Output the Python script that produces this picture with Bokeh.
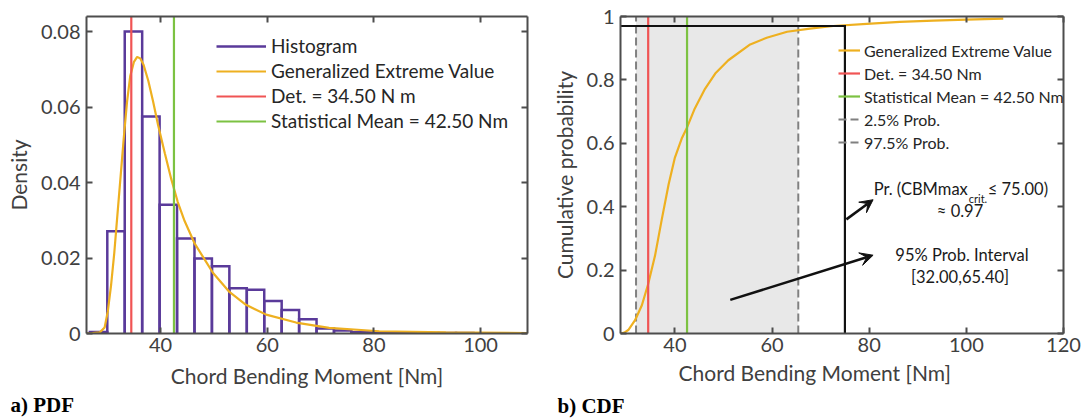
from bokeh.embed import file_html
from bokeh.layouts import row
from bokeh.models import (Arrow, FixedTicker, Label, Legend, LegendItem,
                          LinearAxis, Range1d, Title, VeeHead)
from bokeh.plotting import figure
from bokeh.resources import INLINE

# ---------------- data ----------------
# histogram of the chord bending moment (density per bin)
bin_edges = [26.73, 30.00, 33.27, 36.54, 39.81, 43.08, 46.35, 49.62, 52.89,
             56.16, 59.43, 62.70, 65.97, 69.24, 72.51, 75.78, 79.05, 82.32,
             85.59, 88.86, 92.13, 95.40, 98.67]
hist_density = [0.0004, 0.0271, 0.0800, 0.0575, 0.0341, 0.0252, 0.0199,
                0.0178, 0.0120, 0.0116, 0.0086, 0.0062, 0.0038, 0.0013,
                0.0008, 0.0003, 0.0003, 0.0001, 0.0002, 0.0001, 0.0001, 0.0001]

# fitted generalized extreme value density
gev_x = [26.1, 28.6, 29.5, 30.1, 30.7, 31.3, 31.9, 32.5, 33.1, 33.7, 34.3,
         35.0, 35.6, 36.2, 36.8, 37.7, 38.6, 39.5, 40.8, 42.0, 43.2, 44.5,
         46.4, 48.3, 49.8, 52.9, 56.0, 59.8, 65.4, 71.6, 81.0, 93.5, 108.8]
gev_pdf = [0.0, 0.0003, 0.0016, 0.0059, 0.0127, 0.0212, 0.0315, 0.0417,
           0.0520, 0.0614, 0.0682, 0.0720, 0.0733, 0.0729, 0.0712, 0.0669,
           0.0614, 0.0554, 0.0477, 0.0409, 0.0349, 0.0298, 0.0238, 0.0195,
           0.0161, 0.0110, 0.0076, 0.0050, 0.0029, 0.0015, 0.0006, 0.0003,
           0.0001]

# fitted generalized extreme value cumulative distribution
cdf_x = [28.8, 29.6, 30.4, 31.8, 33.2, 34.5, 35.9, 37.3, 38.7, 40.0, 41.4,
         42.5, 44.1, 46.2, 48.3, 51.0, 55.5, 58.9, 63.1, 67.8, 72.6, 79.5,
         86.3, 93.2, 100.0, 107.6]
cdf_p = [0.0, 0.003, 0.011, 0.042, 0.089, 0.156, 0.245, 0.360, 0.470, 0.555,
         0.615, 0.650, 0.710, 0.772, 0.820, 0.862, 0.912, 0.933, 0.952,
         0.962, 0.970, 0.977, 0.983, 0.987, 0.990, 0.993]

det_value = 34.50        # deterministic moment [Nm]
mean_value = 42.50       # statistical mean [Nm]
prob_lo = 32.00          # 2.5 % quantile
prob_hi = 65.40          # 97.5 % quantile
crit_value = 75.00       # critical moment
crit_prob = 0.97         # probability of not exceeding it

pdf_x_range = (26.1, 108.8)
pdf_y_range = (0.0, 0.084)
cdf_x_range = (28.8, 120.0)
cdf_y_range = (0.0, 1.0)

pdf_xticks = [40, 60, 80, 100]
pdf_yticks = [0, 0.02, 0.04, 0.06, 0.08]
pdf_ytick_labels = ["0", "0.02", "0.04", "0.06", "0.08"]
cdf_xticks = [40, 60, 80, 100, 120]
cdf_yticks = [0, 0.2, 0.4, 0.6, 0.8, 1]
cdf_ytick_labels = ["0", "0.2", "0.4", "0.6", "0.8", "1"]

x_title = "Chord Bending Moment [Nm]"

# ---------------- style ----------------
FONT = "Lato"
AXIS_COLOR = "#4d4d4d"
TEXT_COLOR = "#404040"
PURPLE = "#5a3a9a"
ORANGE = "#eeb020"
RED = "#f05454"
GREEN = "#7cc242"
GREY = "#808080"
SHADE = "#e8e8e8"
TICK_SIZE = "20px"
LABEL_SIZE = "21px"


def style_axis(ax, ticks, labels=None, show_labels=True, axis_label=None):
    ax.ticker = FixedTicker(ticks=ticks)
    ax.axis_line_color = AXIS_COLOR
    ax.axis_line_width = 2
    ax.major_tick_line_color = AXIS_COLOR
    ax.major_tick_line_width = 2
    ax.major_tick_in = 6
    ax.major_tick_out = 0
    ax.minor_tick_line_color = None
    if show_labels:
        ax.major_label_text_font = FONT
        ax.major_label_text_font_size = TICK_SIZE
        ax.major_label_text_color = TEXT_COLOR
        ax.major_label_standoff = 6
        if labels is not None:
            ax.major_label_overrides = dict(zip(ticks, labels))
    else:
        # mirrored box side: tick marks only
        ax.major_label_text_font_size = "1px"
        ax.major_label_text_color = None
        ax.major_label_standoff = 0
    if axis_label:
        ax.axis_label = axis_label
        ax.axis_label_text_font = FONT
        ax.axis_label_text_font_size = LABEL_SIZE
        ax.axis_label_text_font_style = "normal"
        ax.axis_label_text_color = TEXT_COLOR


def make_figure(width, xr, yr, left, right, top, bottom):
    p = figure(width=width, height=418, x_range=Range1d(*xr),
               y_range=Range1d(*yr), output_backend="svg",
               toolbar_location=None, min_border_left=left,
               min_border_right=right, min_border_top=top,
               min_border_bottom=bottom)
    p.grid.visible = False
    p.outline_line_color = None
    p.background_fill_color = "white"
    p.border_fill_color = "white"
    return p


def panel_tag(p, text, offset, standoff=0):
    p.add_layout(Title(text=text, align="left", offset=offset,
                       standoff=standoff, text_font="Liberation Serif",
                       text_font_style="bold", text_font_size="21px",
                       text_line_height=1.0, text_color="black"), "below")


# ---------------- a) PDF ----------------
p1 = make_figure(545, pdf_x_range, pdf_y_range, 86, 18, 5, 85)

bar_xs = [[bin_edges[i], bin_edges[i], bin_edges[i + 1], bin_edges[i + 1]]
          for i in range(len(hist_density))]
bar_ys = [[0, h, h, 0] for h in hist_density]
r_hist = p1.multi_line(bar_xs, bar_ys, line_color=PURPLE, line_width=2.5,
                       line_join="miter")
r_gev = p1.line(gev_x, gev_pdf, line_color=ORANGE, line_width=2.2)
r_det = p1.segment(x0=[det_value], y0=[pdf_y_range[0]], x1=[det_value],
                   y1=[pdf_y_range[1]], line_color=RED, line_width=2.2)
r_mean = p1.segment(x0=[mean_value], y0=[pdf_y_range[0]], x1=[mean_value],
                    y1=[pdf_y_range[1]], line_color=GREEN, line_width=2.2)

style_axis(p1.xaxis[0], pdf_xticks, axis_label=x_title)
style_axis(p1.yaxis[0], pdf_yticks, pdf_ytick_labels, axis_label="Density")
p1.xaxis[0].major_label_standoff = 4
p1.xaxis[0].axis_label_standoff = 8
p1.yaxis[0].axis_label_standoff = 7
top1 = LinearAxis()
style_axis(top1, pdf_xticks, show_labels=False)
p1.add_layout(top1, "above")
right1 = LinearAxis()
style_axis(right1, pdf_yticks, show_labels=False)
p1.add_layout(right1, "right")

leg1 = Legend(items=[
    LegendItem(label="Histogram", renderers=[r_hist]),
    LegendItem(label="Generalized Extreme Value", renderers=[r_gev]),
    LegendItem(label=f"Det. = {det_value:.2f} N m", renderers=[r_det]),
    LegendItem(label=f"Statistical Mean = {mean_value:.2f} Nm",
               renderers=[r_mean]),
], location=(130, 201))
leg1.border_line_color = None
leg1.background_fill_alpha = 0
leg1.padding = 0
leg1.margin = 0
leg1.spacing = 2
leg1.glyph_width = 50
leg1.glyph_height = 20
leg1.label_height = 20
leg1.label_standoff = 5
leg1.label_text_font = FONT
leg1.label_text_font_size = "19px"
leg1.label_text_color = "#262626"
p1.add_layout(leg1)

panel_tag(p1, "a) PDF", -76)

# ---------------- b) CDF ----------------
p2 = make_figure(538, cdf_x_range, cdf_y_range, 75, 20, 16, 82)

p2.quad(left=[prob_lo], right=[prob_hi], bottom=[cdf_y_range[0]],
        top=[cdf_y_range[1]], fill_color=SHADE, line_color=None)
r_lo = p2.segment(x0=[prob_lo], y0=[cdf_y_range[0]], x1=[prob_lo],
                  y1=[cdf_y_range[1]], line_color=GREY, line_width=2,
                  line_dash="8 4")
r_hi = p2.segment(x0=[prob_hi], y0=[cdf_y_range[0]], x1=[prob_hi],
                  y1=[cdf_y_range[1]], line_color=GREY, line_width=2,
                  line_dash="8 4")
r_cdf = p2.line(cdf_x, cdf_p, line_color=ORANGE, line_width=2.2)
r_det2 = p2.segment(x0=[det_value], y0=[cdf_y_range[0]], x1=[det_value],
                    y1=[cdf_y_range[1]], line_color=RED, line_width=2.2)
r_mean2 = p2.segment(x0=[mean_value], y0=[cdf_y_range[0]], x1=[mean_value],
                     y1=[cdf_y_range[1]], line_color=GREEN, line_width=2.2)
# critical value: probability of not exceeding it
p2.line([cdf_x_range[0], crit_value, crit_value],
        [crit_prob, crit_prob, cdf_y_range[0]], line_color="#111111",
        line_width=2.2, line_join="miter")

style_axis(p2.xaxis[0], cdf_xticks)
style_axis(p2.yaxis[0], cdf_yticks, cdf_ytick_labels,
           axis_label="Cumulative probability")
p2.xaxis[0].major_label_standoff = 4
p2.yaxis[0].axis_label_standoff = 7
top2 = LinearAxis()
style_axis(top2, cdf_xticks, show_labels=False)
p2.add_layout(top2, "above")
right2 = LinearAxis()
style_axis(right2, cdf_yticks, show_labels=False)
p2.add_layout(right2, "right")

# x title of the CDF panel sits a little left of the frame centre
p2.add_layout(Title(text=x_title, align="left", offset=58, standoff=10,
                    vertical_align="top", text_line_height=1.0,
                    text_font=FONT, text_font_size=LABEL_SIZE,
                    text_font_style="normal", text_color=TEXT_COLOR),
              "below")

leg2 = Legend(items=[
    LegendItem(label="Generalized Extreme Value", renderers=[r_cdf]),
    LegendItem(label=f"Det. = {det_value:.2f} Nm", renderers=[r_det2]),
    LegendItem(label=f"Statistical Mean = {mean_value:.2f} Nm",
               renderers=[r_mean2]),
    LegendItem(label="2.5% Prob.", renderers=[r_lo]),
    LegendItem(label="97.5% Prob.", renderers=[r_hi]),
], location=(218, 181))
leg2.border_line_color = None
leg2.background_fill_alpha = 0
leg2.padding = 0
leg2.margin = 0
leg2.spacing = 3
leg2.glyph_width = 22
leg2.glyph_height = 20
leg2.label_height = 20
leg2.label_standoff = 4
leg2.label_text_font = FONT
leg2.label_text_font_size = "16px"
leg2.label_text_color = "#262626"
p2.add_layout(leg2)

ANN = dict(text_font=FONT, text_font_size="16.5px", text_color="#1a1a1a",
           text_baseline="middle")
p2.add_layout(Label(x=100.3, y=0.456, text="Pr. (CBMmax", text_align="right",
                    **ANN))
p2.add_layout(Label(x=100.5, y=0.426, text="crit.", text_align="left",
                    text_font=FONT, text_font_size="11px",
                    text_color="#1a1a1a", text_baseline="middle"))
p2.add_layout(Label(x=104.4, y=0.456, text=f"\u2264 {crit_value:.2f})",
                    text_align="left", **ANN))
p2.add_layout(Label(x=98.7, y=0.387, text=f"\u2248 {crit_prob:.2f}",
                    text_align="center", **ANN))
p2.add_layout(Label(x=99.1, y=0.249, text="95% Prob. Interval",
                    text_align="center", **ANN))
p2.add_layout(Label(x=98.7, y=0.177,
                    text=f"[{prob_lo:.2f},{prob_hi:.2f}]",
                    text_align="center", **ANN))

p2.add_layout(Arrow(x_start=crit_value + 0.3, y_start=0.36, x_end=80.8,
                    y_end=0.422, line_color="#111111", line_width=2.5,
                    end=VeeHead(size=13, fill_color="#111111",
                                line_color="#111111")))
p2.add_layout(Arrow(x_start=51.4, y_start=0.106, x_end=80.8, y_end=0.247,
                    line_color="#111111", line_width=2.5,
                    end=VeeHead(size=13, fill_color="#111111",
                                line_color="#111111")))

panel_tag(p2, "b) CDF", -63)

layout = row(p1, p2)
open("out.html", "w").write(file_html(layout, INLINE))
